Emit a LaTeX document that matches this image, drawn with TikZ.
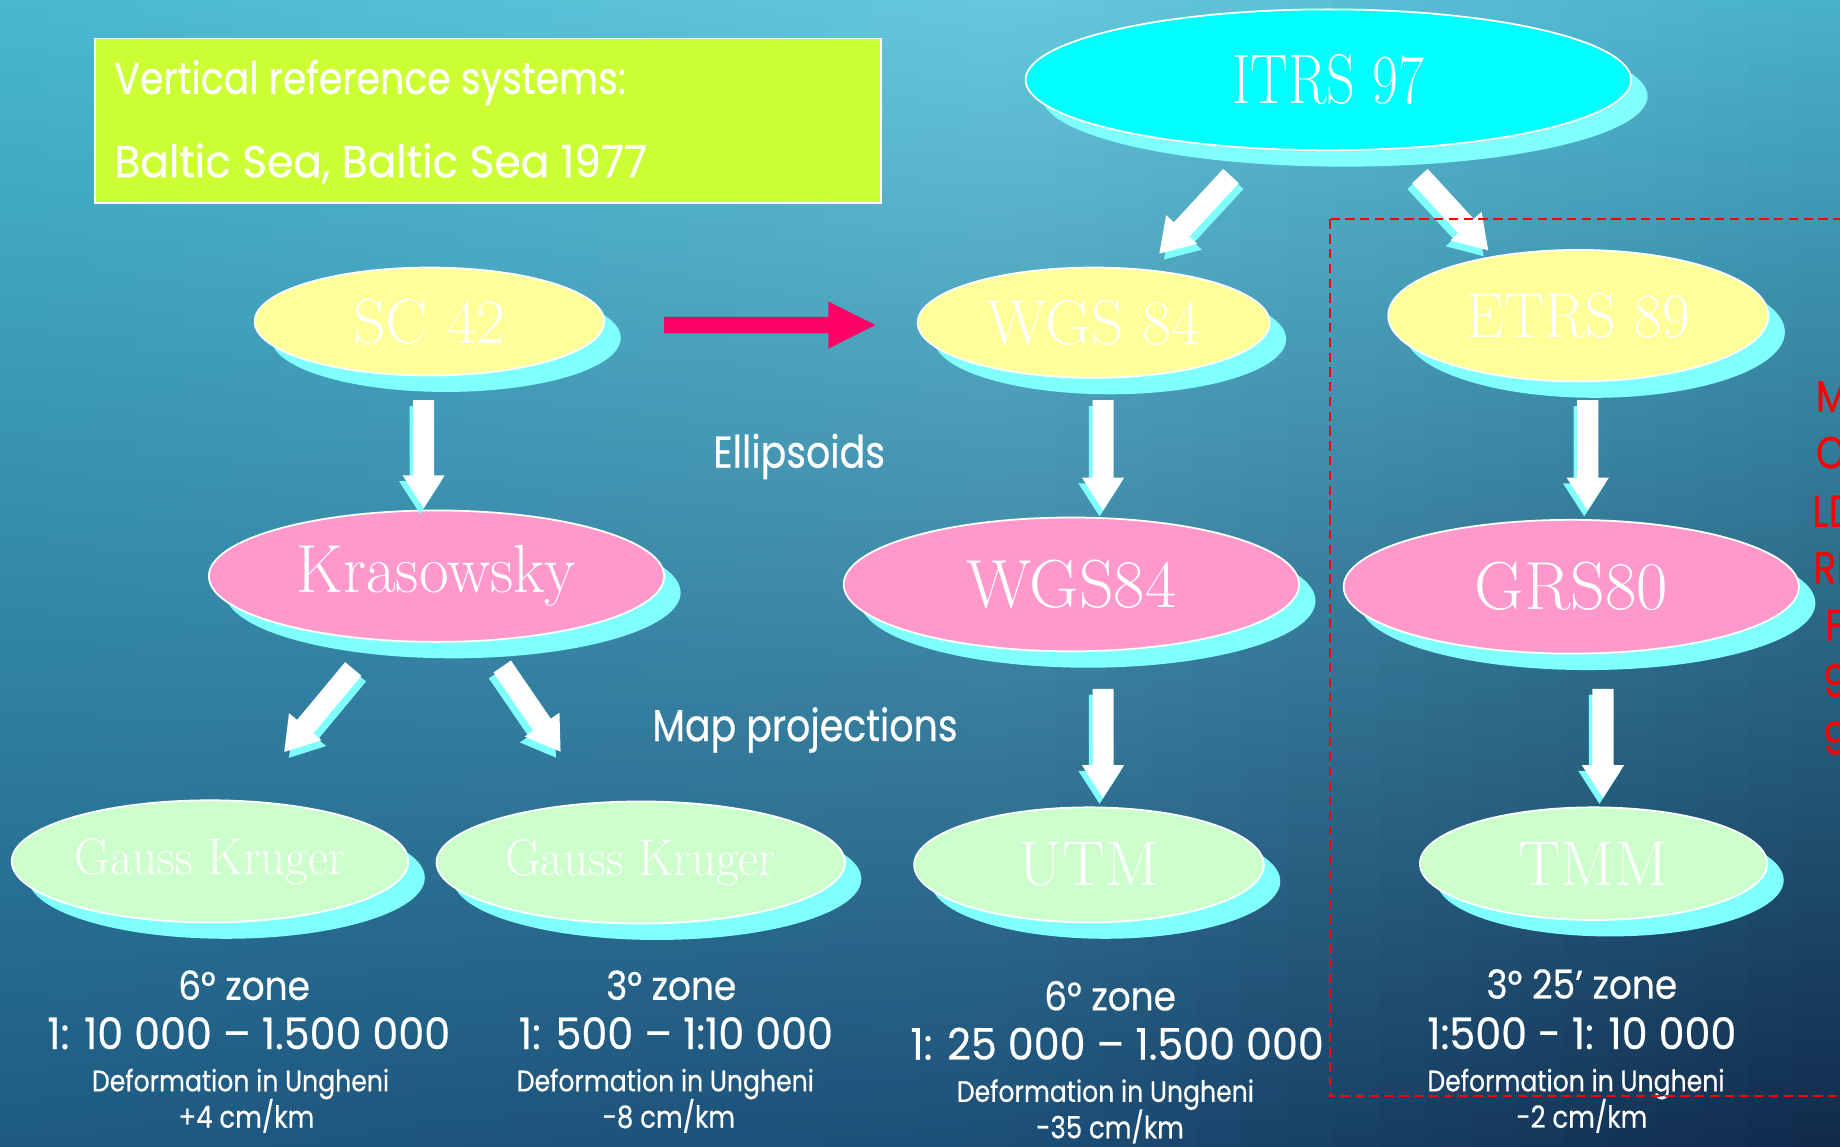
\documentclass[tikz,border=0pt]{standalone}
\usepackage{fontspec}
\setmainfont{Latin Modern Roman}
\newfontfamily\futN[FakeStretch=0.85,FakeBold=0.5]{Poppins}
\newfontfamily\futZ[FakeStretch=0.9,FakeBold=0.5]{Poppins}
\newfontfamily\futW[FakeStretch=0.95,FakeBold=0.5]{Poppins}
\newfontfamily\calN[FakeStretch=0.8]{Latin Modern Roman}
\newfontfamily\calM[FakeStretch=0.95]{Latin Modern Roman}
\newfontfamily\calW[FakeStretch=1.0]{Latin Modern Roman}
\usetikzlibrary{shapes.geometric,shadows,calc}
% background colour grid (rows: top, middle, bottom; columns: left, centre, right)
\definecolor{tl}{HTML}{47B8D0}\definecolor{tc}{HTML}{66C8DC}\definecolor{tr}{HTML}{48B0CB}
\definecolor{ml}{HTML}{3EA3C0}\definecolor{mc}{HTML}{48A6C3}\definecolor{mr}{HTML}{2F78A0}
\definecolor{bl}{HTML}{1E5A82}\definecolor{bc}{HTML}{1C4E76}\definecolor{br}{HTML}{10294A}
\definecolor{limebox}{HTML}{CCFF33}
\definecolor{itrsc}{HTML}{00FFFF}
\definecolor{yellowc}{HTML}{FFFF99}
\definecolor{pinkc}{HTML}{FF99CC}
\definecolor{greenc}{HTML}{CCFFCC}
\definecolor{shadowc}{HTML}{80FFFF}
\definecolor{redarrow}{HTML}{FF0066}
\newcommand\lab[2]{#1\fontsize{#2}{#2}\selectfont}
% block arrow: fill, tail, shift, angle, length, shaft half, head half, head length
\newcommand\blockarrow[8]{%
  \fill[#1, shift={(#2)}, shift={#3}, rotate=#4] (0pt,-#6) -- ({#5-#8},-#6) -- ({#5-#8},-#7) -- (#5,0pt) -- ({#5-#8},#7) -- ({#5-#8},#6) -- (0pt,#6) -- cycle;}
\newcommand\wa[4]{%
  \blockarrow{shadowc}{#1}{#4}{#2}{#3}{4.5pt}{9pt}{14pt}%
  \blockarrow{white}{#1}{(0pt,0pt)}{#2}{#3}{4.5pt}{9pt}{14pt}}
\begin{document}
\begin{tikzpicture}[x=0.5pt,y=-0.5pt,
  ell/.style={ellipse, draw=white, line width=0.75pt, inner sep=0pt, text=white,
    drop shadow={fill=shadowc, opacity=1, shadow xshift=7pt, shadow yshift=-7pt}},
  btxt/.style={text=white, inner sep=0pt, anchor=base},
  redtxt/.style={text=red, inner sep=0pt, anchor=base west, font=\lab{\futN}{19}}]
\clip (0,0) rectangle (1568,977);
% background: strips with vertical shadings, mixed horizontally
\foreach \i in {0,...,21} {
  \pgfmathsetmacro\pp{100-100/22*(\i+0.5)}
  \colorlet{ct}{tl!\pp!tc}\colorlet{cm}{ml!\pp!mc}\colorlet{cb}{bl!\pp!bc}
  \pgfmathsetmacro\xa{862/22*\i}\pgfmathsetmacro\xb{862/22*(\i+1)+1.5}
  \shade[top color=ct, middle color=cm, bottom color=cb] (\xa,0) rectangle (\xb,977);
}
\foreach \i in {0,...,17} {
  \pgfmathsetmacro\pp{100-100/18*(\i+0.5)}
  \colorlet{ct}{tc!\pp!tr}\colorlet{cm}{mc!\pp!mr}\colorlet{cb}{bc!\pp!br}
  \pgfmathsetmacro\xa{862+706/18*\i}\pgfmathsetmacro\xb{862+706/18*(\i+1)+1.5}
  \shade[top color=ct, middle color=cm, bottom color=cb] (\xa,0) rectangle (\xb,977);
}
% vertical reference box
\node[draw=white, line width=0.75pt, fill=limebox, minimum width=335pt, minimum height=70pt, anchor=north west, inner sep=0pt] (vbox) at (80,32) {};
\node[btxt, anchor=base west, font=\lab{\futN}{19}] (vt1) at (97,80) {Vertical reference systems:};
\node[btxt, anchor=base west, font=\lab{\futW}{19}] (vt2) at (97,151) {Baltic Sea, Baltic Sea 1977};
% ellipses
\node[ell, fill=itrsc, minimum width=258pt, minimum height=60pt, font=\lab{\calN}{30}] (itrs) at (1132,68) {ITRS 97};
\node[ell, fill=yellowc, minimum width=149pt, minimum height=46pt, font=\lab{\calW}{27}] (sc42) at (366,274) {SC 42};
\node[ell, fill=yellowc, minimum width=150pt, minimum height=47pt, font=\lab{\calW}{27}] (wgsy) at (932,275) {WGS 84};
\node[ell, fill=yellowc, minimum width=162pt, minimum height=56pt, font=\lab{\calM}{27}] (etrs) at (1345,269) {ETRS 89};
\node[ell, fill=pinkc, minimum width=194pt, minimum height=56pt, font=\lab{\calM}{29}] (kras) at (372,491) {Krasowsky};
\node[ell, fill=pinkc, minimum width=194pt, minimum height=57pt, font=\lab{\calW}{29}] (wgsp) at (913,498) {WGS84};
\node[ell, fill=pinkc, minimum width=194pt, minimum height=57pt, font=\lab{\calW}{29}] (grs) at (1339,500) {GRS80};
\node[ell, fill=greenc, minimum width=169pt, minimum height=52pt, font=\lab{\calM}{22}] (gk1) at (179,734) {Gauss Kruger};
\node[ell, fill=greenc, minimum width=174pt, minimum height=52pt, font=\lab{\calM}{22}] (gk2) at (546,735) {Gauss Kruger};
\node[ell, fill=greenc, minimum width=149pt, minimum height=49pt, font=\lab{\calW}{27}] (utm) at (928,737) {UTM};
\node[ell, fill=greenc, minimum width=148pt, minimum height=48pt, font=\lab{\calW}{27}] (tmm) at (1358,736) {TMM};
% arrow tails
\coordinate (a1) at (1049,150);
\coordinate (a2) at (1210,150);
\coordinate (a4) at (361,341);
\coordinate (a5) at (940,341);
\coordinate (a6) at (1353,341);
\coordinate (a7) at (301,570);
\coordinate (a8) at (428,568);
\coordinate (a9) at (940,587);
\coordinate (a10) at (1366,587);
\wa{a1}{-132.7}{45pt}{(2pt,-2.5pt)}
\wa{a2}{-47.4}{43pt}{(-2pt,-2.5pt)}
\wa{a4}{-90}{46pt}{(-1.5pt,-2.5pt)}
\wa{a5}{-90}{47pt}{(-1.5pt,-2.5pt)}
\wa{a6}{-90}{47pt}{(-1.5pt,-2.5pt)}
\wa{a7}{-129.7}{46pt}{(2pt,-2.5pt)}
\wa{a8}{-55.6}{44pt}{(-2pt,-2.5pt)}
\wa{a9}{-90}{46.5pt}{(-1.5pt,-2.5pt)}
\wa{a10}{-90}{46.5pt}{(-1.5pt,-2.5pt)}
% red arrow SC42 -> WGS84
\coordinate (ra1) at (566,277);
\blockarrow{redarrow}{ra1}{(0pt,0pt)}{0}{90pt}{3.5pt}{10pt}{20pt}
% labels
\node[text=white, inner sep=0pt, font=\lab{\futN}{19}] (ellips) at (681,389) {Ellipsoids};
\node[text=white, inner sep=0pt, font=\lab{\futN}{19}] (mapproj) at (686,622) {Map projections};
% bottom texts
\node[btxt, font=\lab{\futZ}{17}] (b1a) at (208,852) {6° zone};
\node[btxt, font=\lab{\futW}{18.5}] (b1b) at (212,894) {1: 10 000 – 1.500 000};
\node[btxt, font=\lab{\futN}{12.6}] (b1c) at (205,930) {Deformation in Ungheni};
\node[btxt, font=\lab{\futN}{13}] (b1d) at (210,961) {+4 cm/km};
\node[btxt, font=\lab{\futZ}{17}] (b2a) at (572,852) {3° zone};
\node[btxt, font=\lab{\futW}{18.5}] (b2b) at (576,894) {1: 500 – 1:10 000};
\node[btxt, font=\lab{\futN}{12.6}] (b2c) at (567,930) {Deformation in Ungheni};
\node[btxt, font=\lab{\futN}{13}] (b2d) at (570,961) {-8 cm/km};
\node[btxt, font=\lab{\futZ}{17}] (b3a) at (946,861) {6° zone};
\node[btxt, font=\lab{\futW}{18.5}] (b3b) at (952,903) {1: 25 000 – 1.500 000};
\node[btxt, font=\lab{\futN}{12.6}] (b3c) at (942,939) {Deformation in Ungheni};
\node[btxt, font=\lab{\futN}{13}] (b3d) at (946,970) {-35 cm/km};
\node[btxt, font=\lab{\futZ}{17}] (b4a) at (1348,851) {3° 25’ zone};
\node[btxt, font=\lab{\futW}{18.5}] (b4b) at (1348,894) {1:500 - 1: 10 000};
\node[btxt, font=\lab{\futN}{12.6}] (b4c) at (1343,930) {Deformation in Ungheni};
\node[btxt, font=\lab{\futN}{13}] (b4d) at (1348,961) {-2 cm/km};
% red dashed frame
\draw[red, line width=0.85pt, dash pattern=on 4pt off 2.3pt] (1133,187) rectangle (1600,934);
% red clipped text
\node[redtxt] (r1) at (1547,351) {M};
\node[redtxt] (r2) at (1547,399) {O};
\node[redtxt] (r3) at (1544,449) {LD};
\node[redtxt] (r4) at (1545,497) {RE};
\node[redtxt] (r5) at (1555,546) {F};
\node[redtxt] (r6) at (1553,594) {9};
\node[redtxt] (r7) at (1553,643) {9};
\end{tikzpicture}
\end{document}
